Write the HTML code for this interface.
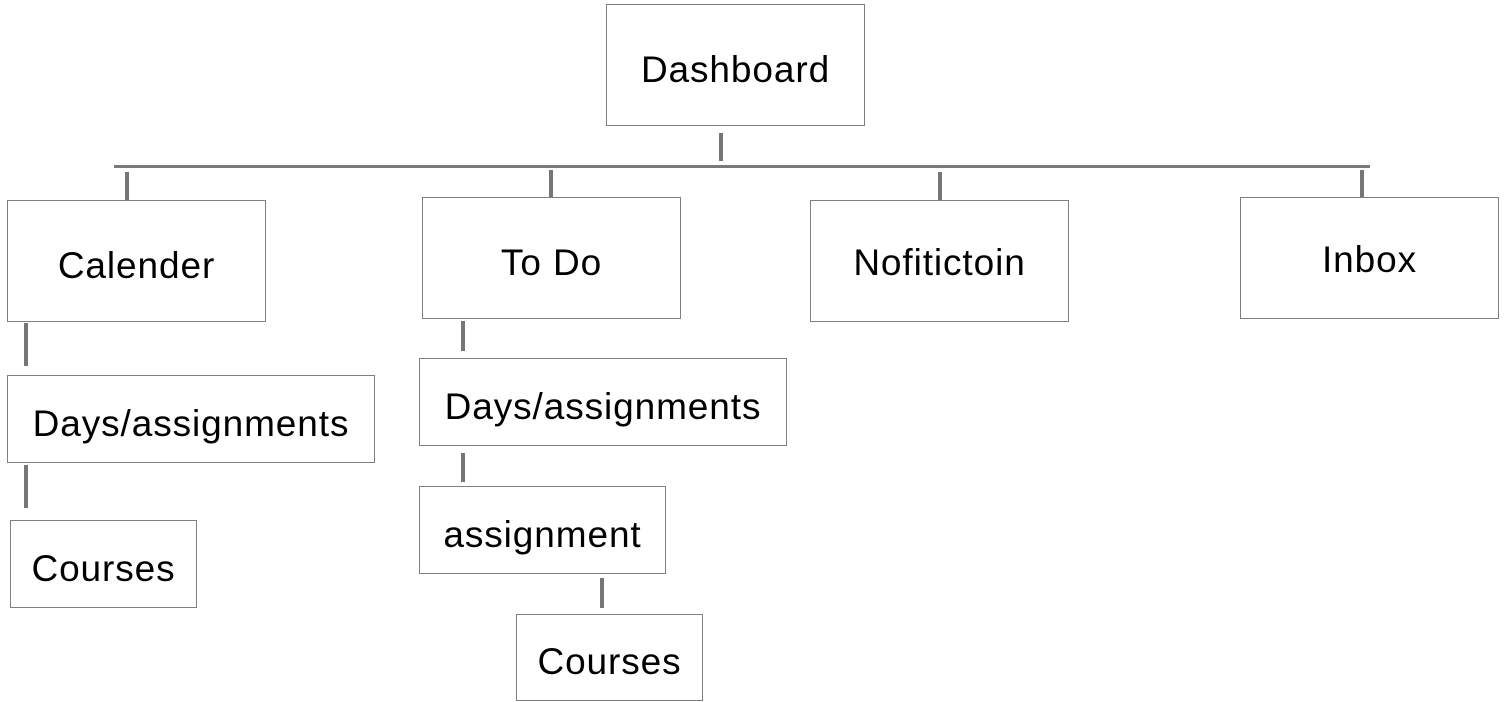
<!DOCTYPE html>
<html><head><style>
body{margin:0;width:1505px;height:702px;background:#fff;position:relative;overflow:hidden;font-family:"Liberation Sans",sans-serif;}
.b{position:absolute;box-sizing:border-box;border:1px solid #7f7f7f;background:#fff;display:flex;align-items:center;justify-content:center;font-size:37px;letter-spacing:0.9px;color:#000;padding-top:9px;}
.v{position:absolute;width:4px;background:#767676;}
</style></head><body>
<div style="position:absolute;left:114px;top:165px;width:1256px;height:3px;background:#7a7a7a"></div>
<div class="v" style="left:719px;top:133px;height:28px"></div>
<div class="v" style="left:125px;top:172px;height:28px"></div>
<div class="v" style="left:549px;top:170px;height:27px"></div>
<div class="v" style="left:938px;top:172px;height:28px"></div>
<div class="v" style="left:1360px;top:170px;height:27px"></div>
<div class="v" style="left:24px;top:323px;height:43px"></div>
<div class="v" style="left:24px;top:465px;height:43px"></div>
<div class="v" style="left:461px;top:321px;height:30px"></div>
<div class="v" style="left:461px;top:453px;height:29px"></div>
<div class="v" style="left:600px;top:578px;height:30px"></div>
<div class="b" style="left:606px;top:4px;width:259px;height:122px">Dashboard</div>
<div class="b" style="left:7px;top:200px;width:259px;height:122px">Calender</div>
<div class="b" style="left:422px;top:197px;width:259px;height:122px">To Do</div>
<div class="b" style="left:810px;top:200px;width:259px;height:122px;padding-top:3px">Nofitictoin</div>
<div class="b" style="left:1240px;top:197px;width:259px;height:122px;padding-top:4px">Inbox</div>
<div class="b" style="left:7px;top:375px;width:368px;height:88px">Days/assignments</div>
<div class="b" style="left:10px;top:520px;width:187px;height:88px">Courses</div>
<div class="b" style="left:419px;top:358px;width:368px;height:88px">Days/assignments</div>
<div class="b" style="left:419px;top:486px;width:247px;height:88px">assignment</div>
<div class="b" style="left:516px;top:614px;width:187px;height:87px">Courses</div>
</body></html>
